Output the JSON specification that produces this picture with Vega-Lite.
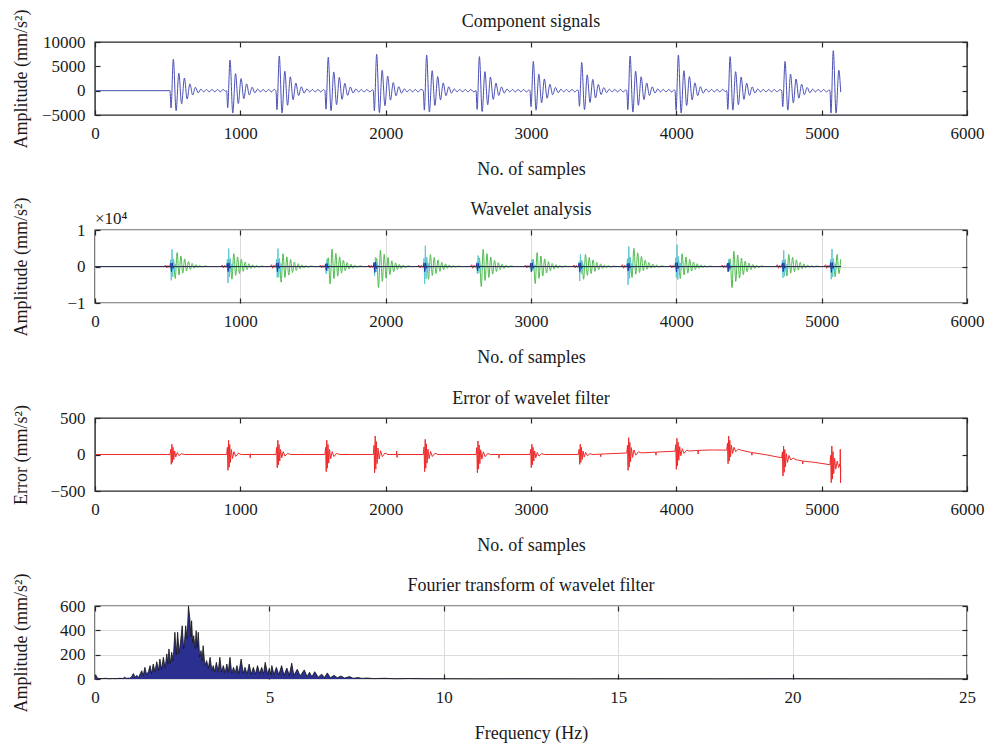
{
"$schema":"https://vega.github.io/schema/vega-lite/v6.json",
"background":"white",
"padding":{"left":11,"top":8,"right":5,"bottom":0},
"spacing":115,
"bounds":"flush",
"config":{
"font":"Liberation Serif",
"view":{"stroke":"#262626","strokeWidth":1.4},
"axis":{"domain":false,"grid":false,"tickSize":-5,"tickColor":"#262626","tickWidth":1.2,"labelFontSize":17,"labelColor":"#1a1a1a","labelPadding":15,"titleFontSize":18,"titleFontWeight":"normal","titleColor":"#1a1a1a","gridColor":"#dcdcdc","gridWidth":1,"labelFlush":false,"format":"d"},
"title":{"fontSize":18,"fontWeight":"normal","color":"#1a1a1a","frame":"group","offset":-22,"baseline":"bottom","anchor":"middle"}
},
"datasets":{
"p1":[{"x":0,"y":0},{"x":516,"y":0},{"x":523,"y":-3550},{"x":539,"y":6450},{"x":558,"y":-4100},{"x":577,"y":3600},{"x":596,"y":-2700},{"x":615,"y":2600},{"x":634,"y":-1700},{"x":653,"y":1400},{"x":672,"y":-900},{"x":691,"y":700},{"x":710,"y":-450},{"x":729,"y":320},{"x":748,"y":-250},{"x":767,"y":250},{"x":786,"y":-250},{"x":805,"y":250},{"x":824,"y":-250},{"x":843,"y":250},{"x":862,"y":-250},{"x":881,"y":250},{"x":900,"y":-150},
{"x":906,"y":0},{"x":913,"y":-3500},{"x":929,"y":6300},{"x":948,"y":-4600},{"x":967,"y":3500},{"x":986,"y":-2650},{"x":1005,"y":2500},{"x":1024,"y":-1650},{"x":1043,"y":1400},{"x":1062,"y":-880},{"x":1081,"y":700},{"x":1100,"y":-440},{"x":1119,"y":320},{"x":1138,"y":-250},{"x":1157,"y":250},{"x":1176,"y":-250},{"x":1195,"y":250},{"x":1214,"y":-250},{"x":1233,"y":250},
{"x":1245,"y":0},{"x":1252,"y":-3900},{"x":1268,"y":7130},{"x":1287,"y":-4600},{"x":1306,"y":4000},{"x":1325,"y":-3000},{"x":1344,"y":2850},{"x":1363,"y":-1850},{"x":1382,"y":1570},{"x":1401,"y":-1000},{"x":1420,"y":780},{"x":1439,"y":-500},{"x":1458,"y":360},{"x":1477,"y":-250},{"x":1496,"y":250},{"x":1515,"y":-250},{"x":1534,"y":250},{"x":1553,"y":-250},{"x":1572,"y":200},
{"x":1582,"y":0},{"x":1589,"y":-3800},{"x":1605,"y":6860},{"x":1624,"y":-4100},{"x":1643,"y":3840},{"x":1662,"y":-2880},{"x":1681,"y":2740},{"x":1700,"y":-1780},{"x":1719,"y":1500},{"x":1738,"y":-960},{"x":1757,"y":750},{"x":1776,"y":-480},{"x":1795,"y":340},{"x":1814,"y":-250},{"x":1833,"y":250},{"x":1852,"y":-250},{"x":1871,"y":250},{"x":1890,"y":-250},{"x":1909,"y":150},
{"x":1915,"y":0},{"x":1922,"y":-4100},{"x":1938,"y":7480},{"x":1957,"y":-4500},{"x":1976,"y":4200},{"x":1995,"y":-3100},{"x":2014,"y":3000},{"x":2033,"y":-1950},{"x":2052,"y":1650},{"x":2071,"y":-1050},{"x":2090,"y":820},{"x":2109,"y":-520},{"x":2128,"y":370},{"x":2147,"y":-250},{"x":2166,"y":250},{"x":2185,"y":-250},{"x":2204,"y":250},{"x":2223,"y":-250},{"x":2242,"y":250},
{"x":2259,"y":0},{"x":2266,"y":-4000},{"x":2282,"y":7340},{"x":2301,"y":-4400},{"x":2320,"y":4100},{"x":2339,"y":-3050},{"x":2358,"y":2900},{"x":2377,"y":-1900},{"x":2396,"y":1600},{"x":2415,"y":-1030},{"x":2434,"y":800},{"x":2453,"y":-510},{"x":2472,"y":360},{"x":2491,"y":-250},{"x":2510,"y":250},{"x":2529,"y":-250},{"x":2548,"y":250},{"x":2567,"y":-250},{"x":2586,"y":250},{"x":2605,"y":-250},
{"x":2622,"y":0},{"x":2629,"y":-3850},{"x":2645,"y":6990},{"x":2664,"y":-4300},{"x":2683,"y":3900},{"x":2702,"y":-2900},{"x":2721,"y":2800},{"x":2740,"y":-1800},{"x":2759,"y":1540},{"x":2778,"y":-980},{"x":2797,"y":770},{"x":2816,"y":-490},{"x":2835,"y":350},{"x":2854,"y":-250},{"x":2873,"y":250},{"x":2892,"y":-250},{"x":2911,"y":250},{"x":2930,"y":-250},{"x":2949,"y":250},{"x":2968,"y":-250},{"x":2987,"y":150},
{"x":2993,"y":0},{"x":3000,"y":-3300},{"x":3016,"y":6000},{"x":3035,"y":-4000},{"x":3054,"y":3400},{"x":3073,"y":-2500},{"x":3092,"y":2400},{"x":3111,"y":-1560},{"x":3130,"y":1320},{"x":3149,"y":-840},{"x":3168,"y":660},{"x":3187,"y":-420},{"x":3206,"y":300},{"x":3225,"y":-250},{"x":3244,"y":250},{"x":3263,"y":-250},{"x":3282,"y":250},{"x":3301,"y":-250},{"x":3320,"y":150},
{"x":3326,"y":0},{"x":3333,"y":-3200},{"x":3349,"y":5800},{"x":3368,"y":-3900},{"x":3387,"y":3250},{"x":3406,"y":-2440},{"x":3425,"y":2320},{"x":3444,"y":-1500},{"x":3463,"y":1280},{"x":3482,"y":-810},{"x":3501,"y":640},{"x":3520,"y":-400},{"x":3539,"y":290},{"x":3558,"y":-250},{"x":3577,"y":250},{"x":3596,"y":-250},{"x":3615,"y":250},{"x":3634,"y":-250},{"x":3653,"y":150},
{"x":3659,"y":0},{"x":3666,"y":-3900},{"x":3682,"y":7130},{"x":3701,"y":-4400},{"x":3720,"y":4000},{"x":3739,"y":-3000},{"x":3758,"y":2850},{"x":3777,"y":-1850},{"x":3796,"y":1570},{"x":3815,"y":-1000},{"x":3834,"y":780},{"x":3853,"y":-500},{"x":3872,"y":360},{"x":3891,"y":-250},{"x":3910,"y":250},{"x":3929,"y":-250},{"x":3948,"y":250},{"x":3967,"y":-250},{"x":3986,"y":150},
{"x":3991,"y":0},{"x":3998,"y":-4000},{"x":4014,"y":7340},{"x":4033,"y":-4600},{"x":4052,"y":4100},{"x":4071,"y":-3050},{"x":4090,"y":2900},{"x":4109,"y":-1900},{"x":4128,"y":1600},{"x":4147,"y":-1030},{"x":4166,"y":800},{"x":4185,"y":-510},{"x":4204,"y":360},{"x":4223,"y":-250},{"x":4242,"y":250},{"x":4261,"y":-250},{"x":4280,"y":250},{"x":4299,"y":-250},{"x":4318,"y":250},{"x":4337,"y":-150},
{"x":4347,"y":0},{"x":4354,"y":-3850},{"x":4370,"y":6990},{"x":4389,"y":-4000},{"x":4408,"y":3900},{"x":4427,"y":-2900},{"x":4446,"y":2800},{"x":4465,"y":-1800},{"x":4484,"y":1540},{"x":4503,"y":-980},{"x":4522,"y":770},{"x":4541,"y":-490},{"x":4560,"y":350},{"x":4579,"y":-250},{"x":4598,"y":250},{"x":4617,"y":-250},{"x":4636,"y":250},{"x":4655,"y":-250},{"x":4674,"y":250},{"x":4693,"y":-250},{"x":4712,"y":200},
{"x":4725,"y":0},{"x":4732,"y":-3300},{"x":4748,"y":6000},{"x":4767,"y":-4000},{"x":4786,"y":3400},{"x":4805,"y":-2500},{"x":4824,"y":2400},{"x":4843,"y":-1560},{"x":4862,"y":1320},{"x":4881,"y":-840},{"x":4900,"y":660},{"x":4919,"y":-420},{"x":4938,"y":300},{"x":4957,"y":-250},{"x":4976,"y":250},{"x":4995,"y":-250},{"x":5014,"y":250},{"x":5033,"y":-250},{"x":5052,"y":150},
{"x":5057,"y":0},{"x":5064,"y":-4600},{"x":5080,"y":8220},{"x":5099,"y":-4600},{"x":5118,"y":4200},{"x":5131,"y":-300}],
"g":[{"x":0,"y":0},
{"x":516,"y":0},{"x":526,"y":-760},{"x":539,"y":1900},{"x":552,"y":-3300},{"x":565,"y":3800},{"x":578,"y":-2310},{"x":591,"y":2850},{"x":604,"y":-1815},{"x":617,"y":2090},{"x":630,"y":-1254},{"x":643,"y":1330},{"x":656,"y":-825},{"x":669,"y":836},{"x":682,"y":-495},{"x":695,"y":494},{"x":708,"y":-330},{"x":721,"y":304},{"x":736,"y":-165},{"x":756,"y":152},{"x":776,"y":0},
{"x":906,"y":0},{"x":916,"y":-700},{"x":929,"y":1750},{"x":942,"y":-3500},{"x":955,"y":3500},{"x":968,"y":-2450},{"x":981,"y":2625},{"x":994,"y":-1925},{"x":1007,"y":1925},{"x":1020,"y":-1330},{"x":1033,"y":1225},{"x":1046,"y":-875},{"x":1059,"y":770},{"x":1072,"y":-525},{"x":1085,"y":455},{"x":1098,"y":-350},{"x":1111,"y":280},{"x":1126,"y":-175},{"x":1146,"y":140},{"x":1166,"y":0},
{"x":1245,"y":0},{"x":1255,"y":-700},{"x":1268,"y":1750},{"x":1281,"y":-4300},{"x":1294,"y":3500},{"x":1307,"y":-3010},{"x":1320,"y":2625},{"x":1333,"y":-2365},{"x":1346,"y":1925},{"x":1359,"y":-1634},{"x":1372,"y":1225},{"x":1385,"y":-1075},{"x":1398,"y":770},{"x":1411,"y":-645},{"x":1424,"y":455},{"x":1437,"y":-430},{"x":1450,"y":280},{"x":1465,"y":-215},{"x":1485,"y":140},{"x":1505,"y":0},
{"x":1582,"y":0},{"x":1592,"y":-960},{"x":1605,"y":2400},{"x":1618,"y":-4800},{"x":1631,"y":4800},{"x":1644,"y":-3360},{"x":1657,"y":3600},{"x":1670,"y":-2640},{"x":1683,"y":2640},{"x":1696,"y":-1824},{"x":1709,"y":1680},{"x":1722,"y":-1200},{"x":1735,"y":1056},{"x":1748,"y":-720},{"x":1761,"y":624},{"x":1774,"y":-480},{"x":1787,"y":384},{"x":1802,"y":-240},{"x":1822,"y":192},{"x":1842,"y":0},
{"x":1915,"y":0},{"x":1925,"y":-900},{"x":1938,"y":2250},{"x":1951,"y":-5800},{"x":1964,"y":4500},{"x":1977,"y":-4060},{"x":1990,"y":3375},{"x":2003,"y":-3190},{"x":2016,"y":2475},{"x":2029,"y":-2204},{"x":2042,"y":1575},{"x":2055,"y":-1450},{"x":2068,"y":990},{"x":2081,"y":-870},{"x":2094,"y":585},{"x":2107,"y":-580},{"x":2120,"y":360},{"x":2135,"y":-290},{"x":2155,"y":180},{"x":2175,"y":0},
{"x":2259,"y":0},{"x":2269,"y":-660},{"x":2282,"y":1650},{"x":2295,"y":-3500},{"x":2308,"y":3300},{"x":2321,"y":-2450},{"x":2334,"y":2475},{"x":2347,"y":-1925},{"x":2360,"y":1815},{"x":2373,"y":-1330},{"x":2386,"y":1155},{"x":2399,"y":-875},{"x":2412,"y":726},{"x":2425,"y":-525},{"x":2438,"y":429},{"x":2451,"y":-350},{"x":2464,"y":264},{"x":2479,"y":-175},{"x":2499,"y":132},{"x":2519,"y":0},
{"x":2622,"y":0},{"x":2632,"y":-940},{"x":2645,"y":2350},{"x":2658,"y":-5500},{"x":2671,"y":4700},{"x":2684,"y":-3850},{"x":2697,"y":3525},{"x":2710,"y":-3025},{"x":2723,"y":2585},{"x":2736,"y":-2090},{"x":2749,"y":1645},{"x":2762,"y":-1375},{"x":2775,"y":1034},{"x":2788,"y":-825},{"x":2801,"y":611},{"x":2814,"y":-550},{"x":2827,"y":376},{"x":2842,"y":-275},{"x":2862,"y":188},{"x":2882,"y":0},
{"x":2993,"y":0},{"x":3003,"y":-760},{"x":3016,"y":1900},{"x":3029,"y":-4700},{"x":3042,"y":3800},{"x":3055,"y":-3290},{"x":3068,"y":2850},{"x":3081,"y":-2585},{"x":3094,"y":2090},{"x":3107,"y":-1786},{"x":3120,"y":1330},{"x":3133,"y":-1175},{"x":3146,"y":836},{"x":3159,"y":-705},{"x":3172,"y":494},{"x":3185,"y":-470},{"x":3198,"y":304},{"x":3213,"y":-235},{"x":3233,"y":152},{"x":3253,"y":0},
{"x":3326,"y":0},{"x":3336,"y":-660},{"x":3349,"y":1650},{"x":3362,"y":-3500},{"x":3375,"y":3300},{"x":3388,"y":-2450},{"x":3401,"y":2475},{"x":3414,"y":-1925},{"x":3427,"y":1815},{"x":3440,"y":-1330},{"x":3453,"y":1155},{"x":3466,"y":-875},{"x":3479,"y":726},{"x":3492,"y":-525},{"x":3505,"y":429},{"x":3518,"y":-350},{"x":3531,"y":264},{"x":3546,"y":-175},{"x":3566,"y":132},{"x":3586,"y":0},
{"x":3659,"y":0},{"x":3669,"y":-1000},{"x":3682,"y":2500},{"x":3695,"y":-3000},{"x":3708,"y":5000},{"x":3721,"y":-2100},{"x":3734,"y":3750},{"x":3747,"y":-1650},{"x":3760,"y":2750},{"x":3773,"y":-1140},{"x":3786,"y":1750},{"x":3799,"y":-750},{"x":3812,"y":1100},{"x":3825,"y":-450},{"x":3838,"y":650},{"x":3851,"y":-300},{"x":3864,"y":400},{"x":3879,"y":-150},{"x":3899,"y":200},{"x":3919,"y":0},
{"x":3991,"y":0},{"x":4001,"y":-700},{"x":4014,"y":1750},{"x":4027,"y":-3300},{"x":4040,"y":3500},{"x":4053,"y":-2310},{"x":4066,"y":2625},{"x":4079,"y":-1815},{"x":4092,"y":1925},{"x":4105,"y":-1254},{"x":4118,"y":1225},{"x":4131,"y":-825},{"x":4144,"y":770},{"x":4157,"y":-495},{"x":4170,"y":455},{"x":4183,"y":-330},{"x":4196,"y":280},{"x":4211,"y":-165},{"x":4231,"y":140},{"x":4251,"y":0},
{"x":4347,"y":0},{"x":4357,"y":-840},{"x":4370,"y":2100},{"x":4383,"y":-5800},{"x":4396,"y":4200},{"x":4409,"y":-4060},{"x":4422,"y":3150},{"x":4435,"y":-3190},{"x":4448,"y":2310},{"x":4461,"y":-2204},{"x":4474,"y":1470},{"x":4487,"y":-1450},{"x":4500,"y":924},{"x":4513,"y":-870},{"x":4526,"y":546},{"x":4539,"y":-580},{"x":4552,"y":336},{"x":4567,"y":-290},{"x":4587,"y":168},{"x":4607,"y":0},
{"x":4725,"y":0},{"x":4735,"y":-660},{"x":4748,"y":1650},{"x":4761,"y":-2600},{"x":4774,"y":3300},{"x":4787,"y":-1820},{"x":4800,"y":2475},{"x":4813,"y":-1430},{"x":4826,"y":1815},{"x":4839,"y":-988},{"x":4852,"y":1155},{"x":4865,"y":-650},{"x":4878,"y":726},{"x":4891,"y":-390},{"x":4904,"y":429},{"x":4917,"y":-260},{"x":4930,"y":264},{"x":4945,"y":-130},{"x":4965,"y":132},{"x":4985,"y":0},
{"x":5057,"y":0},{"x":5067,"y":-660},{"x":5080,"y":1650},{"x":5093,"y":-2800},{"x":5106,"y":3300},{"x":5119,"y":-1960},{"x":5131,"y":2000}],
"c":[{"x":0,"y":0},
{"x":516,"y":0},{"x":521,"y":1880},{"x":525,"y":-3800},{"x":530,"y":4700},{"x":535,"y":-2820},{"x":540,"y":2115},{"x":546,"y":-1410},{"x":553,"y":705},{"x":562,"y":-376},{"x":574,"y":0},
{"x":906,"y":0},{"x":911,"y":1960},{"x":915,"y":-4500},{"x":920,"y":4900},{"x":925,"y":-2940},{"x":930,"y":2205},{"x":936,"y":-1470},{"x":943,"y":735},{"x":952,"y":-392},{"x":964,"y":0},
{"x":1245,"y":0},{"x":1250,"y":1960},{"x":1254,"y":-3000},{"x":1259,"y":4900},{"x":1264,"y":-2940},{"x":1269,"y":2205},{"x":1275,"y":-1470},{"x":1282,"y":735},{"x":1291,"y":-392},{"x":1303,"y":0},
{"x":1582,"y":0},{"x":1587,"y":800},{"x":1591,"y":-2000},{"x":1596,"y":2000},{"x":1601,"y":-1200},{"x":1606,"y":900},{"x":1612,"y":-600},{"x":1619,"y":300},{"x":1628,"y":-160},{"x":1640,"y":0},
{"x":1915,"y":0},{"x":1920,"y":1000},{"x":1924,"y":-2500},{"x":1929,"y":2500},{"x":1934,"y":-1500},{"x":1939,"y":1125},{"x":1945,"y":-750},{"x":1952,"y":375},{"x":1961,"y":-200},{"x":1973,"y":0},
{"x":2259,"y":0},{"x":2264,"y":2280},{"x":2268,"y":-4800},{"x":2273,"y":5700},{"x":2278,"y":-3420},{"x":2283,"y":2565},{"x":2289,"y":-1710},{"x":2296,"y":855},{"x":2305,"y":-456},{"x":2317,"y":0},
{"x":2622,"y":0},{"x":2627,"y":1200},{"x":2631,"y":-2000},{"x":2636,"y":3000},{"x":2641,"y":-1800},{"x":2646,"y":1350},{"x":2652,"y":-900},{"x":2659,"y":450},{"x":2668,"y":-240},{"x":2680,"y":0},
{"x":2993,"y":0},{"x":2998,"y":800},{"x":3002,"y":-1500},{"x":3007,"y":2000},{"x":3012,"y":-1200},{"x":3017,"y":900},{"x":3023,"y":-600},{"x":3030,"y":300},{"x":3039,"y":-160},{"x":3051,"y":0},
{"x":3326,"y":0},{"x":3331,"y":1320},{"x":3335,"y":-4000},{"x":3340,"y":3300},{"x":3345,"y":-1980},{"x":3350,"y":1485},{"x":3356,"y":-990},{"x":3363,"y":495},{"x":3372,"y":-264},{"x":3384,"y":0},
{"x":3659,"y":0},{"x":3664,"y":2200},{"x":3668,"y":-5000},{"x":3673,"y":5500},{"x":3678,"y":-3300},{"x":3683,"y":2475},{"x":3689,"y":-1650},{"x":3696,"y":825},{"x":3705,"y":-440},{"x":3717,"y":0},
{"x":3991,"y":0},{"x":3996,"y":2400},{"x":4000,"y":-3000},{"x":4005,"y":6000},{"x":4010,"y":-3600},{"x":4015,"y":2700},{"x":4021,"y":-1800},{"x":4028,"y":900},{"x":4037,"y":-480},{"x":4049,"y":0},
{"x":4347,"y":0},{"x":4352,"y":800},{"x":4356,"y":-1500},{"x":4361,"y":2000},{"x":4366,"y":-1200},{"x":4371,"y":900},{"x":4377,"y":-600},{"x":4384,"y":300},{"x":4393,"y":-160},{"x":4405,"y":0},
{"x":4725,"y":0},{"x":4730,"y":1760},{"x":4734,"y":-3100},{"x":4739,"y":4400},{"x":4744,"y":-2640},{"x":4749,"y":1980},{"x":4755,"y":-1320},{"x":4762,"y":660},{"x":4771,"y":-352},{"x":4783,"y":0},
{"x":5057,"y":0},{"x":5062,"y":1920},{"x":5066,"y":-3500},{"x":5071,"y":4800},{"x":5076,"y":-2880},{"x":5081,"y":2160},{"x":5087,"y":-1440},{"x":5094,"y":720},{"x":5103,"y":-384},{"x":5115,"y":0},{"x":5131,"y":0}],
"b":[{"x":0,"y":0},
{"x":516,"y":0},{"x":521,"y":900},{"x":526,"y":-1400},{"x":531,"y":1000},{"x":537,"y":-500},{"x":544,"y":0},
{"x":906,"y":0},{"x":911,"y":900},{"x":916,"y":-1400},{"x":921,"y":1000},{"x":927,"y":-500},{"x":934,"y":0},
{"x":1245,"y":0},{"x":1250,"y":900},{"x":1255,"y":-1400},{"x":1260,"y":1000},{"x":1266,"y":-500},{"x":1273,"y":0},
{"x":1582,"y":0},{"x":1587,"y":700},{"x":1592,"y":-1100},{"x":1597,"y":800},{"x":1603,"y":-400},{"x":1610,"y":0},
{"x":1915,"y":0},{"x":1920,"y":1100},{"x":1925,"y":-1600},{"x":1930,"y":1200},{"x":1936,"y":-600},{"x":1943,"y":0},
{"x":2259,"y":0},{"x":2264,"y":900},{"x":2269,"y":-1400},{"x":2274,"y":1000},{"x":2280,"y":-500},{"x":2287,"y":0},
{"x":2622,"y":0},{"x":2627,"y":800},{"x":2632,"y":-1200},{"x":2637,"y":900},{"x":2643,"y":-450},{"x":2650,"y":0},
{"x":2993,"y":0},{"x":2998,"y":900},{"x":3003,"y":-1400},{"x":3008,"y":1000},{"x":3014,"y":-500},{"x":3021,"y":0},
{"x":3326,"y":0},{"x":3331,"y":900},{"x":3336,"y":-1400},{"x":3341,"y":1000},{"x":3347,"y":-500},{"x":3354,"y":0},
{"x":3659,"y":0},{"x":3664,"y":800},{"x":3669,"y":-1200},{"x":3674,"y":900},{"x":3680,"y":-450},{"x":3687,"y":0},
{"x":3991,"y":0},{"x":3996,"y":1000},{"x":4001,"y":-1500},{"x":4006,"y":1100},{"x":4012,"y":-550},{"x":4019,"y":0},
{"x":4347,"y":0},{"x":4352,"y":900},{"x":4357,"y":-1400},{"x":4362,"y":1000},{"x":4368,"y":-500},{"x":4375,"y":0},
{"x":4725,"y":0},{"x":4730,"y":900},{"x":4735,"y":-1400},{"x":4740,"y":1000},{"x":4746,"y":-500},{"x":4753,"y":0},
{"x":5057,"y":0},{"x":5062,"y":1000},{"x":5067,"y":-1600},{"x":5072,"y":1100},{"x":5078,"y":-550},{"x":5085,"y":0},{"x":5131,"y":0}],
"r":[{"x":0,"y":0},
{"x":476,"y":0},{"x":486,"y":400},{"x":494,"y":-400},{"x":502,"y":300},{"x":510,"y":-250},{"x":516,"y":0},
{"x":866,"y":0},{"x":876,"y":400},{"x":884,"y":-400},{"x":892,"y":300},{"x":900,"y":-250},{"x":906,"y":0},
{"x":1205,"y":0},{"x":1215,"y":500},{"x":1223,"y":-500},{"x":1231,"y":350},{"x":1239,"y":-250},{"x":1245,"y":0},
{"x":1542,"y":0},{"x":1552,"y":400},{"x":1560,"y":-400},{"x":1568,"y":300},{"x":1576,"y":-250},{"x":1582,"y":0},
{"x":1875,"y":0},{"x":1885,"y":400},{"x":1893,"y":-400},{"x":1901,"y":300},{"x":1909,"y":-250},{"x":1915,"y":0},
{"x":2219,"y":0},{"x":2229,"y":400},{"x":2237,"y":-400},{"x":2245,"y":300},{"x":2253,"y":-250},{"x":2259,"y":0},
{"x":2582,"y":0},{"x":2592,"y":500},{"x":2600,"y":-500},{"x":2608,"y":350},{"x":2616,"y":-250},{"x":2622,"y":0},
{"x":2953,"y":0},{"x":2963,"y":400},{"x":2971,"y":-400},{"x":2979,"y":300},{"x":2987,"y":-250},{"x":2993,"y":0},
{"x":3286,"y":0},{"x":3296,"y":400},{"x":3304,"y":-400},{"x":3312,"y":300},{"x":3320,"y":-250},{"x":3326,"y":0},
{"x":3619,"y":0},{"x":3629,"y":500},{"x":3637,"y":-500},{"x":3645,"y":350},{"x":3653,"y":-250},{"x":3659,"y":0},
{"x":3951,"y":0},{"x":3961,"y":400},{"x":3969,"y":-400},{"x":3977,"y":300},{"x":3985,"y":-250},{"x":3991,"y":0},
{"x":4307,"y":0},{"x":4317,"y":400},{"x":4325,"y":-400},{"x":4333,"y":300},{"x":4341,"y":-250},{"x":4347,"y":0},
{"x":4685,"y":0},{"x":4695,"y":500},{"x":4703,"y":-500},{"x":4711,"y":350},{"x":4719,"y":-250},{"x":4725,"y":0},
{"x":5017,"y":0},{"x":5027,"y":500},{"x":5035,"y":-500},{"x":5043,"y":350},{"x":5051,"y":-250},{"x":5057,"y":0},{"x":5131,"y":0}],
"k":[{"x":0,"y":0},{"x":5131,"y":0}],
"p3":[{"x":0,"y":0},{"x":500,"y":0},
{"x":516,"y":0},{"x":521,"y":70},{"x":525,"y":-135},{"x":529,"y":140},{"x":533,"y":-108},{"x":537,"y":98},{"x":542,"y":-68},{"x":548,"y":49},{"x":556,"y":-34},{"x":566,"y":28},{"x":578,"y":-16},{"x":596,"y":11},{"x":616,"y":0},
{"x":906,"y":0},{"x":911,"y":98},{"x":915,"y":-217},{"x":919,"y":195},{"x":923,"y":-174},{"x":927,"y":137},{"x":932,"y":-109},{"x":938,"y":68},{"x":946,"y":-54},{"x":956,"y":39},{"x":968,"y":-26},{"x":986,"y":16},{"x":1006,"y":0},
{"x":1066,"y":0},{"x":1068,"y":-45},{"x":1070,"y":10},{"x":1072,"y":0},
{"x":1245,"y":0},{"x":1250,"y":98},{"x":1254,"y":-180},{"x":1258,"y":195},{"x":1262,"y":-144},{"x":1266,"y":137},{"x":1271,"y":-90},{"x":1277,"y":68},{"x":1285,"y":-45},{"x":1295,"y":39},{"x":1307,"y":-22},{"x":1325,"y":16},{"x":1345,"y":0},
{"x":1582,"y":0},{"x":1587,"y":98},{"x":1591,"y":-235},{"x":1595,"y":195},{"x":1599,"y":-188},{"x":1603,"y":137},{"x":1608,"y":-118},{"x":1614,"y":68},{"x":1622,"y":-59},{"x":1632,"y":39},{"x":1644,"y":-28},{"x":1662,"y":16},{"x":1682,"y":0},
{"x":1915,"y":0},{"x":1920,"y":127},{"x":1924,"y":-250},{"x":1928,"y":253},{"x":1932,"y":-200},{"x":1936,"y":177},{"x":1941,"y":-125},{"x":1947,"y":89},{"x":1955,"y":-63},{"x":1965,"y":51},{"x":1977,"y":-30},{"x":1995,"y":20},{"x":2015,"y":0},
{"x":2074,"y":0},{"x":2076,"y":45},{"x":2078,"y":-40},{"x":2080,"y":0},
{"x":2259,"y":0},{"x":2264,"y":104},{"x":2268,"y":-235},{"x":2272,"y":208},{"x":2276,"y":-188},{"x":2280,"y":146},{"x":2285,"y":-118},{"x":2291,"y":73},{"x":2299,"y":-59},{"x":2309,"y":42},{"x":2321,"y":-28},{"x":2339,"y":17},{"x":2359,"y":0},
{"x":2622,"y":0},{"x":2627,"y":93},{"x":2631,"y":-250},{"x":2635,"y":185},{"x":2639,"y":-200},{"x":2643,"y":130},{"x":2648,"y":-125},{"x":2654,"y":65},{"x":2662,"y":-63},{"x":2672,"y":37},{"x":2684,"y":-30},{"x":2702,"y":15},{"x":2722,"y":0},
{"x":2778,"y":0},{"x":2780,"y":-50},{"x":2782,"y":0},
{"x":2993,"y":0},{"x":2998,"y":70},{"x":3002,"y":-180},{"x":3006,"y":140},{"x":3010,"y":-144},{"x":3014,"y":98},{"x":3019,"y":-90},{"x":3025,"y":49},{"x":3033,"y":-45},{"x":3043,"y":28},{"x":3055,"y":-22},{"x":3073,"y":11},{"x":3093,"y":0},
{"x":3326,"y":0},{"x":3331,"y":70},{"x":3335,"y":-135},{"x":3339,"y":140},{"x":3343,"y":-108},{"x":3347,"y":98},{"x":3352,"y":-68},{"x":3358,"y":49},{"x":3366,"y":-34},{"x":3376,"y":28},{"x":3388,"y":-16},{"x":3406,"y":11},{"x":3426,"y":0},
{"x":3478,"y":5},{"x":3480,"y":-30},{"x":3482,"y":6},
{"x":3659,"y":20},{"x":3664,"y":125},{"x":3668,"y":-217},{"x":3672,"y":230},{"x":3676,"y":-170},{"x":3680,"y":167},{"x":3685,"y":-99},{"x":3691,"y":94},{"x":3699,"y":-39},{"x":3709,"y":62},{"x":3721,"y":-8},{"x":3739,"y":37},{"x":3759,"y":22},
{"x":3858,"y":32},{"x":3860,"y":-10},{"x":3862,"y":33},
{"x":3991,"y":45},{"x":3996,"y":134},{"x":4000,"y":-203},{"x":4004,"y":222},{"x":4008,"y":-153},{"x":4012,"y":169},{"x":4017,"y":-79},{"x":4023,"y":107},{"x":4031,"y":-17},{"x":4041,"y":80},{"x":4053,"y":15},{"x":4071,"y":59},{"x":4091,"y":48},
{"x":4148,"y":56},{"x":4150,"y":5},{"x":4152,"y":57},{"x":4250,"y":62},
{"x":4347,"y":60},{"x":4352,"y":157},{"x":4356,"y":-126},{"x":4360,"y":253},{"x":4364,"y":-89},{"x":4368,"y":195},{"x":4373,"y":-33},{"x":4379,"y":128},{"x":4387,"y":14},{"x":4397,"y":99},{"x":4409,"y":38},{"x":4427,"y":75},{"x":4447,"y":58},
{"x":4518,"y":28},{"x":4520,"y":-10},{"x":4522,"y":27},{"x":4620,"y":-5},
{"x":4725,"y":-45},{"x":4730,"y":36},{"x":4734,"y":-295},{"x":4738,"y":116},{"x":4742,"y":-245},{"x":4746,"y":68},{"x":4751,"y":-170},{"x":4757,"y":11},{"x":4765,"y":-108},{"x":4775,"y":-13},{"x":4787,"y":-75},{"x":4805,"y":-50},{"x":4825,"y":-72},
{"x":4868,"y":-88},{"x":4870,"y":-130},{"x":4872,"y":-90},{"x":4960,"y":-110},
{"x":5057,"y":-140},{"x":5062,"y":-12},{"x":5066,"y":-386},{"x":5070,"y":116},{"x":5074,"y":-337},{"x":5078,"y":39},{"x":5083,"y":-263},{"x":5089,"y":-50},{"x":5097,"y":-200},{"x":5107,"y":-90},{"x":5117,"y":-180},{"x":5125,"y":-130},{"x":5127,"y":-160},{"x":5128,"y":70},{"x":5130,"y":-386},{"x":5131,"y":-170}],
"p4":[{"x":0,"y":25},{"x":0.03,"y":30},{"x":0.06,"y":10},{"x":0.1,"y":5},{"x":0.2,"y":3},{"x":0.3,"y":6},{"x":0.4,"y":2},{"x":0.5,"y":4},{"x":0.6,"y":3},{"x":0.7,"y":6},{"x":0.8,"y":4},{"x":0.85,"y":15},{"x":0.9,"y":5},{"x":0.95,"y":8},{"x":1.0,"y":6},{"x":1.05,"y":20},{"x":1.1,"y":45},{"x":1.15,"y":15},{"x":1.2,"y":30},{"x":1.25,"y":12},{"x":1.3,"y":45},{"x":1.34,"y":68},{"x":1.38,"y":25},{"x":1.43,"y":96},{"x":1.48,"y":35},{"x":1.53,"y":60},{"x":1.58,"y":110},{"x":1.62,"y":45},{"x":1.67,"y":123},{"x":1.72,"y":60},{"x":1.77,"y":142},{"x":1.82,"y":70},{"x":1.86,"y":164},{"x":1.91,"y":80},{"x":1.96,"y":178},{"x":2.01,"y":90},{"x":2.06,"y":206},{"x":2.09,"y":120},{"x":2.12,"y":247},{"x":2.16,"y":130},{"x":2.2,"y":219},{"x":2.24,"y":150},{"x":2.29,"y":384},{"x":2.33,"y":200},{"x":2.37,"y":384},{"x":2.41,"y":210},{"x":2.45,"y":300},{"x":2.5,"y":438},{"x":2.54,"y":250},{"x":2.57,"y":320},{"x":2.6,"y":438},{"x":2.64,"y":330},{"x":2.68,"y":600},{"x":2.72,"y":493},{"x":2.75,"y":350},{"x":2.77,"y":479},{"x":2.8,"y":300},{"x":2.83,"y":356},{"x":2.87,"y":250},{"x":2.9,"y":397},{"x":2.93,"y":260},{"x":2.96,"y":384},{"x":3.0,"y":180},{"x":3.04,"y":233},{"x":3.07,"y":150},{"x":3.1,"y":274},{"x":3.15,"y":110},{"x":3.2,"y":151},{"x":3.25,"y":90},{"x":3.3,"y":178},{"x":3.35,"y":70},{"x":3.39,"y":110},{"x":3.43,"y":60},{"x":3.48,"y":137},{"x":3.53,"y":60},{"x":3.58,"y":178},{"x":3.63,"y":55},{"x":3.68,"y":110},{"x":3.73,"y":50},{"x":3.78,"y":123},{"x":3.82,"y":55},{"x":3.87,"y":178},{"x":3.92,"y":45},{"x":3.97,"y":96},{"x":4.02,"y":50},{"x":4.07,"y":110},{"x":4.12,"y":45},{"x":4.19,"y":164},{"x":4.25,"y":45},{"x":4.3,"y":96},{"x":4.36,"y":40},{"x":4.42,"y":123},{"x":4.48,"y":40},{"x":4.54,"y":96},{"x":4.6,"y":40},{"x":4.66,"y":110},{"x":4.72,"y":45},{"x":4.78,"y":96},{"x":4.83,"y":40},{"x":4.88,"y":137},{"x":4.95,"y":40},{"x":5.0,"y":90},{"x":5.04,"y":35},{"x":5.07,"y":110},{"x":5.13,"y":35},{"x":5.2,"y":96},{"x":5.27,"y":35},{"x":5.35,"y":110},{"x":5.42,"y":30},{"x":5.5,"y":90},{"x":5.57,"y":30},{"x":5.64,"y":130},{"x":5.7,"y":30},{"x":5.8,"y":80},{"x":5.88,"y":25},{"x":6.0,"y":75},{"x":6.08,"y":20},{"x":6.15,"y":55},{"x":6.22,"y":18},{"x":6.3,"y":60},{"x":6.4,"y":15},{"x":6.5,"y":40},{"x":6.58,"y":12},{"x":6.66,"y":50},{"x":6.75,"y":10},{"x":6.85,"y":30},{"x":6.95,"y":10},{"x":7.05,"y":25},{"x":7.15,"y":8},{"x":7.3,"y":20},{"x":7.4,"y":6},{"x":7.55,"y":12},{"x":7.65,"y":5},{"x":7.8,"y":8},{"x":8.0,"y":3},{"x":8.3,"y":6},{"x":8.6,"y":2},{"x":9.0,"y":4},{"x":9.5,"y":2},{"x":10,"y":2},{"x":11,"y":1},{"x":12,"y":2},{"x":14,"y":1},{"x":16,"y":2},{"x":18,"y":1},{"x":20,"y":2},{"x":22,"y":1},{"x":25,"y":0}]
},
"vconcat":[
{"title":"Component signals","width":872,"height":73,
"layer":[
{"data":{"name":"p1"},"mark":{"type":"line","color":"#4a50b5","strokeWidth":1,"interpolate":"monotone"},
"encoding":{"x":{"field":"x","type":"quantitative","scale":{"domain":[0,6000],"nice":false,"zero":false},"axis":{"values":[0,1000,2000,3000,4000,5000,6000],"title":"No. of samples","titleY":45}},
"y":{"field":"y","type":"quantitative","scale":{"domain":[-5000,10000],"nice":false,"zero":false},"axis":{"values":[-5000,0,5000,10000],"title":"Amplitude (mm/s²)","titleX":-74,"titleBaseline":"middle"}}}},
{"data":{"values":[{"x":0,"y":0}]},"mark":{"type":"point","opacity":0},
"encoding":{"x":{"field":"x","type":"quantitative","axis":{"orient":"top","values":[0,1000,2000,3000,4000,5000,6000],"labels":false,"title":null}},
"y":{"field":"y","type":"quantitative","axis":{"orient":"right","values":[-5000,0,5000,10000],"labels":false,"title":null}}}}
],
"resolve":{"axis":{"x":"independent","y":"independent"}}},
{"title":"Wavelet analysis","width":872,"height":73,
"layer":[
{"data":{"name":"g"},"mark":{"type":"line","color":"#4dba4d","strokeWidth":1,"interpolate":"monotone"},
"encoding":{"x":{"field":"x","type":"quantitative","scale":{"domain":[0,6000],"nice":false,"zero":false},"axis":{"values":[0,1000,2000,3000,4000,5000,6000],"title":"No. of samples","titleY":45,"grid":true}},
"y":{"field":"y","type":"quantitative","scale":{"domain":[-10000,10000],"nice":false,"zero":false},"axis":{"values":[-10000,0,10000],"labelExpr":"format(datum.value/10000,'d')","title":"Amplitude (mm/s²)","titleX":-74,"titleBaseline":"middle","grid":true}}}},
{"data":{"name":"c"},"mark":{"type":"line","color":"#5cc6d2","strokeWidth":1},
"encoding":{"x":{"field":"x","type":"quantitative","axis":null},"y":{"field":"y","type":"quantitative","axis":null}}},
{"data":{"name":"r"},"mark":{"type":"line","color":"#e8384f","strokeWidth":1},
"encoding":{"x":{"field":"x","type":"quantitative","axis":null},"y":{"field":"y","type":"quantitative","axis":null}}},
{"data":{"name":"b"},"mark":{"type":"line","color":"#2236b0","strokeWidth":1},
"encoding":{"x":{"field":"x","type":"quantitative","axis":null},"y":{"field":"y","type":"quantitative","axis":null}}},
{"data":{"name":"k"},"mark":{"type":"line","color":"#2c3552","strokeWidth":1.2},
"encoding":{"x":{"field":"x","type":"quantitative","axis":null},"y":{"field":"y","type":"quantitative","axis":null}}},
{"data":{"values":[{"x":0,"y":10000,"t":"×10⁴"}]},"mark":{"type":"text","align":"left","baseline":"alphabetic","dy":-6,"fontSize":17,"font":"Liberation Serif","color":"#1a1a1a"},
"encoding":{"x":{"field":"x","type":"quantitative","axis":null},"y":{"field":"y","type":"quantitative","axis":null},"text":{"field":"t"}}},
{"data":{"values":[{"x":0,"y":0}]},"mark":{"type":"point","opacity":0},
"encoding":{"x":{"field":"x","type":"quantitative","axis":{"orient":"top","values":[0,1000,2000,3000,4000,5000,6000],"labels":false,"title":null}},
"y":{"field":"y","type":"quantitative","axis":{"orient":"right","values":[-10000,0,10000],"labels":false,"title":null}}}}
],
"resolve":{"axis":{"x":"independent","y":"independent"}}},
{"title":{"text":"Error of wavelet filter","offset":-3},"width":872,"height":73,
"layer":[
{"data":{"name":"p3"},"mark":{"type":"line","color":"#ee2a2a","strokeWidth":1},
"encoding":{"x":{"field":"x","type":"quantitative","scale":{"domain":[0,6000],"nice":false,"zero":false},"axis":{"values":[0,1000,2000,3000,4000,5000,6000],"title":"No. of samples","titleY":45}},
"y":{"field":"y","type":"quantitative","scale":{"domain":[-500,500],"nice":false,"zero":false},"axis":{"values":[-500,0,500],"title":"Error (mm/s²)","titleX":-74,"titleBaseline":"middle"}}}},
{"data":{"values":[{"x":0,"y":0}]},"mark":{"type":"point","opacity":0},
"encoding":{"x":{"field":"x","type":"quantitative","axis":{"orient":"top","values":[0,1000,2000,3000,4000,5000,6000],"labels":false,"title":null}},
"y":{"field":"y","type":"quantitative","axis":{"orient":"right","values":[-500,0,500],"labels":false,"title":null}}}}
],
"resolve":{"axis":{"x":"independent","y":"independent"}}},
{"title":"Fourier transform of wavelet filter","width":872,"height":73,
"layer":[
{"data":{"name":"p4"},"mark":{"type":"area","color":"#2b2f8f","opacity":1,"fillOpacity":1,"line":{"color":"#111111","strokeWidth":0.8}},
"encoding":{"x":{"field":"x","type":"quantitative","scale":{"domain":[0,25],"nice":false,"zero":false},"axis":{"values":[0,5,10,15,20,25],"title":"Frequency (Hz)","titleY":45,"grid":true}},
"y":{"field":"y","type":"quantitative","scale":{"domain":[0,600],"nice":false,"zero":false},"axis":{"values":[0,200,400,600],"title":"Amplitude (mm/s²)","titleX":-74,"titleBaseline":"middle","grid":true}}}},
{"data":{"values":[{"x":0,"y":0}]},"mark":{"type":"point","opacity":0},
"encoding":{"x":{"field":"x","type":"quantitative","axis":{"orient":"top","values":[0,5,10,15,20,25],"labels":false,"title":null}},
"y":{"field":"y","type":"quantitative","axis":{"orient":"right","values":[0,200,400,600],"labels":false,"title":null}}}}
],
"resolve":{"axis":{"x":"independent","y":"independent"}}}
]
}
